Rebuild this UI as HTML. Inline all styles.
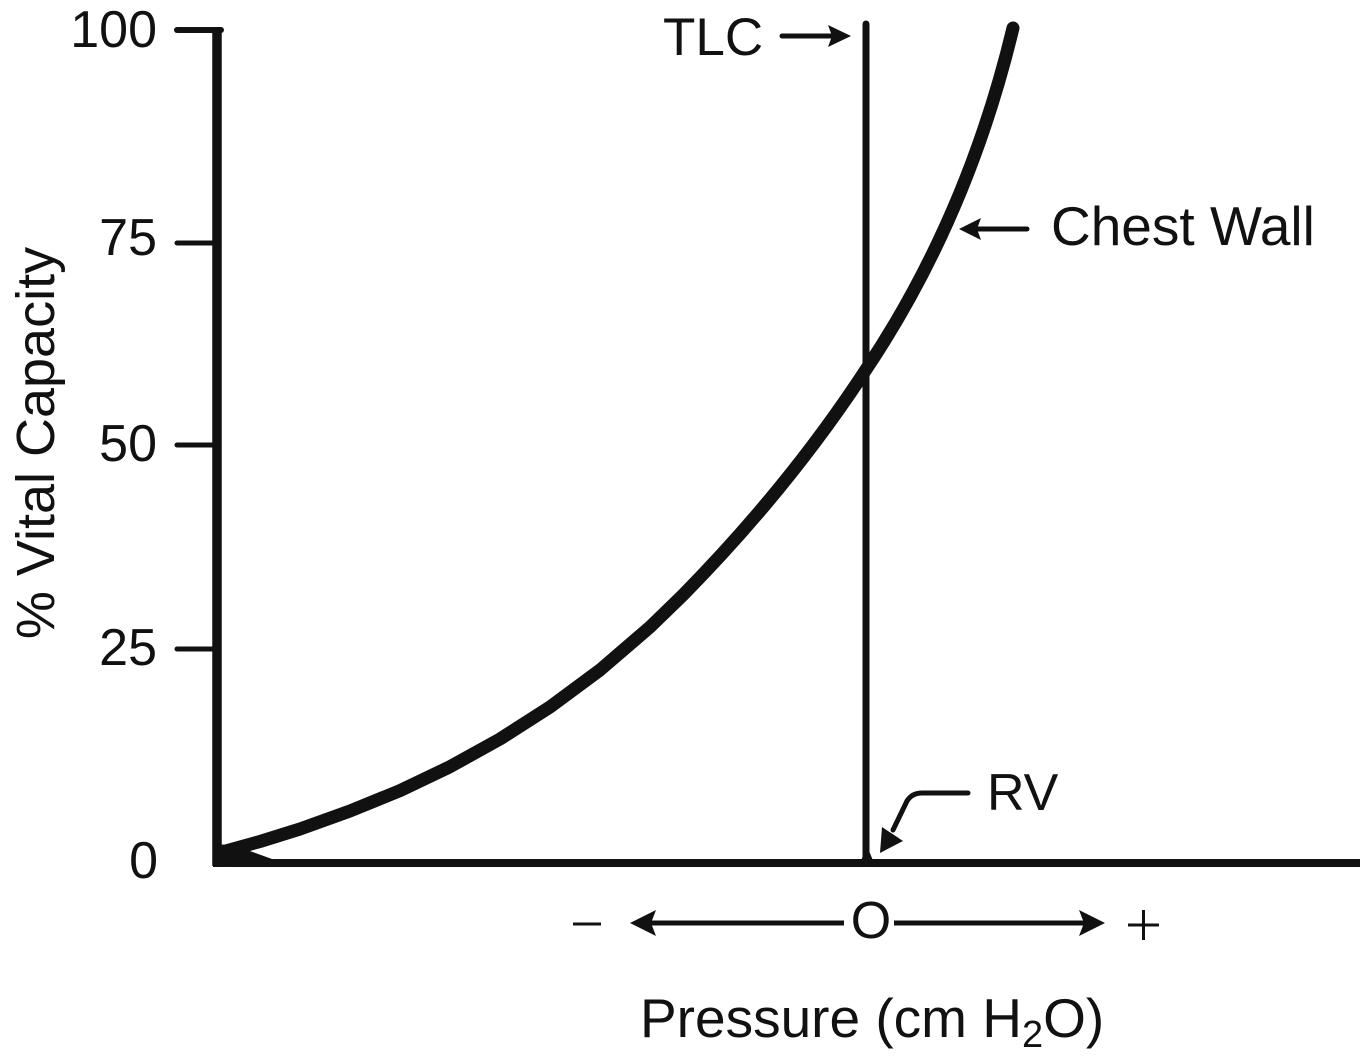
<!DOCTYPE html>
<html>
<head>
<meta charset="utf-8">
<style>
  html, body { margin: 0; padding: 0; background: #ffffff; }
  svg { display: block; }
  text { font-family: "Liberation Sans", Arial, sans-serif; fill: #111; }
</style>
</head>
<body>
<svg width="1360" height="1062" viewBox="0 0 1360 1062" xmlns="http://www.w3.org/2000/svg">
  <rect x="0" y="0" width="1360" height="1062" fill="#ffffff"/>

  <!-- Y axis -->
  <line x1="217" y1="29" x2="217" y2="866" stroke="#111" stroke-width="9.5"/>
  <line x1="177" y1="30" x2="221" y2="30" stroke="#111" stroke-width="6" stroke-linecap="round"/>
  <line x1="177" y1="243" x2="217" y2="243" stroke="#111" stroke-width="5" stroke-linecap="round"/>
  <line x1="177" y1="445" x2="217" y2="445" stroke="#111" stroke-width="5" stroke-linecap="round"/>
  <line x1="177" y1="649" x2="217" y2="649" stroke="#111" stroke-width="5" stroke-linecap="round"/>

  <!-- Baseline -->
  <line x1="213" y1="863" x2="1360" y2="863" stroke="#111" stroke-width="8"/>

  <!-- Tick labels -->
  <text x="157" y="47" font-size="52" text-anchor="end">100</text>
  <text x="157" y="255" font-size="52" text-anchor="end">75</text>
  <text x="157" y="461" font-size="52" text-anchor="end">50</text>
  <text x="157" y="665" font-size="52" text-anchor="end">25</text>
  <text x="158" y="878" font-size="52" text-anchor="end">0</text>

  <!-- Y label -->
  <text transform="translate(54,443) rotate(-90)" font-size="54" text-anchor="middle">% Vital Capacity</text>

  <!-- TLC vertical line -->
  <line x1="866" y1="24" x2="866" y2="862" stroke="#111" stroke-width="7" stroke-linecap="round"/>
  <polygon points="860,863 874,863 867,846" fill="#111"/>

  <!-- Corner wedge -->
  <polygon points="217,844 236,846 272,859 217,866" fill="#111"/>

  <!-- Chest wall curve -->
  <path fill="none" stroke="#111" stroke-width="13" stroke-linejoin="round" stroke-linecap="round"
    d="M222,852 L260,841.5 L300,829 L350,811 L400,790.6 L450,766.7 L500,739 L550,707 L600,670 L650,627 L683,595
       C751,525.8 814.1,449.3 867,368
       C935,266 983,153 1013,28"/>

  <!-- TLC label and arrow -->
  <text x="663" y="55" font-size="53">TLC</text>
  <line x1="782" y1="36" x2="832" y2="36" stroke="#111" stroke-width="5" stroke-linecap="round"/>
  <polygon points="828,25 851,36 828,47 832,36" fill="#111"/>

  <!-- Chest Wall label and arrow -->
  <text x="1051" y="245" font-size="55">Chest Wall</text>
  <line x1="976" y1="229" x2="1027" y2="229" stroke="#111" stroke-width="5" stroke-linecap="round"/>
  <polygon points="959,229 981,218 977,229 981,240" fill="#111"/>

  <!-- RV label and arrow -->
  <text x="987" y="810" font-size="52">RV</text>
  <path d="M968,793 L922,793 Q912,793 907,801 L893,830" fill="none" stroke="#111" stroke-width="5" stroke-linecap="round" stroke-linejoin="round"/>
  <polygon points="880,853 882,827 903,841" fill="#111"/>

  <!-- Pressure direction arrows -->
  <line x1="573" y1="924" x2="601" y2="924" stroke="#111" stroke-width="3"/>
  <line x1="650" y1="923" x2="844" y2="923" stroke="#111" stroke-width="5"/>
  <polygon points="630,923 656,910 651,923 656,936" fill="#111"/>
  <text x="871" y="938" font-size="52" text-anchor="middle">O</text>
  <line x1="894" y1="923" x2="1085" y2="923" stroke="#111" stroke-width="5"/>
  <polygon points="1105,923 1079,910 1084,923 1079,936" fill="#111"/>
  <line x1="1128" y1="925" x2="1159" y2="925" stroke="#111" stroke-width="3"/>
  <line x1="1143.5" y1="910" x2="1143.5" y2="940" stroke="#111" stroke-width="3"/>

  <!-- X label -->
  <text x="640" y="1037" font-size="55">Pressure (cm H<tspan font-size="38" dy="10">2</tspan><tspan dy="-10">O)</tspan></text>
</svg>
</body>
</html>
